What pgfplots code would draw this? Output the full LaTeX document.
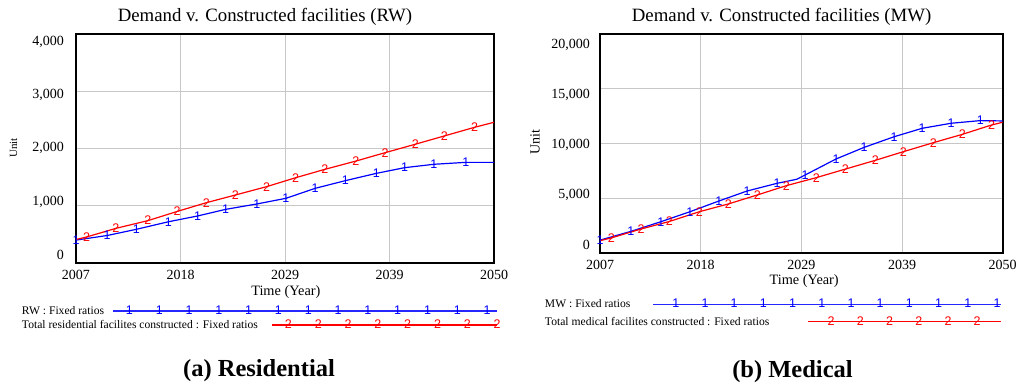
\documentclass[border=0pt]{standalone}
\usepackage{fontspec}
\setmainfont{Liberation Serif}
\newfontfamily\marksf{Liberation Sans}
\usepackage{pgfplots}
\usepackage{pgfplotstable}
\pgfplotsset{compat=1.18}

\newcommand\markfont{\marksf\fontsize{12.5}{13}\selectfont}
\newcommand\legfont{\fontsize{11.6}{13}\selectfont}

\pgfplotstableread{
year val
2007   400
2010.2 480
2013.2 588
2016.5 720
2019.5 821
2022.4 937
2025.6 1031
2028.6 1130
2031.6 1304
2034.7 1438
2037.9 1566
2040.8 1665
2043.8 1724
2047.1 1758
2050   1758
}\rwdata

\pgfplotstableread{
year val
2007   410
2008.1 455
2011.1 605
2014.4 740
2017.4 900
2020.4 1053
2023.4 1188
2026.6 1333
2029.6 1490
2032.6 1636
2035.8 1781
2038.8 1927
2041.9 2074
2044.9 2220
2048.0 2370
2050   2458
}\rtotdata

\pgfplotstableread{
year val
2007   1200
2010.3 2000
2013.5 2880
2016.6 3790
2019.7 4770
2022.7 5680
2025.9 6380
2028.0 6750
2028.9 7140
2032.2 8600
2035.2 9660
2038.4 10630
2041.4 11400
2044.5 11860
2047.6 12100
2050   12070
}\mwdata

\pgfplotstableread{
year val
2007   1150
2008.2 1400
2011.4 2220
2014.4 2900
2017.6 3790
2020.7 4500
2023.8 5320
2026.9 6170
2030.1 6900
2033.2 7680
2036.4 8480
2039.4 9270
2042.6 10090
2045.7 10850
2048.8 11700
2050   11950
}\mtotdata

\pgfplotsset{
  vensim/.style={
    scale only axis,
    anchor=south west,
    xmin=2007, xmax=2050, ymin=0,
    xtick={2007,2017.75,2028.5,2039.25,2050},
    xticklabels={2007,2018,2029,2039,2050},
    yticklabels={},
    scaled x ticks=false, scaled y ticks=false,
    extra y tick style={grid=none},
    grid=major,
    major grid style={color=black!22, line width=0.9pt},
    major tick length=0pt,
    axis line style={line width=1.8pt},
    tick label style={font=\fontsize{14}{15}\selectfont},
    xticklabel style={anchor=north, inner sep=0pt, yshift=-7pt},
    yticklabel style={anchor=east, inner sep=0pt},
    /pgf/number format/assume math mode=true,
    title style={anchor=base, yshift=6pt, font=\fontsize{18.8}{20}\selectfont},
    xlabel={Time (Year)},
    ylabel={Unit},
    legend style={anchor=north west, draw=none, fill=none, inner sep=0pt,
      outer sep=0pt, row sep=0pt, nodes={inner sep=0pt},
      /tikz/every even column/.append style={column sep=0pt}},
    legend cell align=left,
  }
}

\begin{document}
\begin{tikzpicture}
\path[use as bounding box] (0,0) rectangle (1019pt,385pt);

% ---------------- Residential ----------------
\begin{axis}[vensim,
  at={(76pt,122pt)}, width=418pt, height=229pt,
  ymax=4000,
  ytick={0,1000,2000,3000,4000},
  extra y ticks={140,1074,2009,2934,3860},
  extra y tick labels={0,{1,000},{2,000},{3,000},{4,000}},
  yticklabel style={xshift=-12pt},
  title={Demand v. Constructed facilities (RW)},
  title style={at={(0.452,1)}},
  xlabel style={at={(0.502,0)}, anchor=base, yshift=-33pt, font=\fontsize{14.3}{15}\selectfont},
  ylabel style={at={(-0.1495,0.502)}, anchor=center, font=\fontsize{11}{12}\selectfont},
  legend style={at={(-0.1292,-0.179)}},
]
\addlegendimage{legend image code/.code={
  \path[draw=none, fill=none] (0,-7pt) rectangle (476pt,7pt);
  \node[anchor=west, inner sep=0pt, draw=none, font=\legfont, text=black] at (0,0) {RW : Fixed ratios};
  \draw[blue!85, line width=1.2pt] (91pt,0) -- (475pt,0);
  \foreach \i in {0,...,12} \node[inner sep=0pt, draw=none, font=\markfont, text=blue] at ({104pt+\i*29.8pt},0) {1};
}}
\addlegendentry{}
\addlegendimage{legend image code/.code={
  \path[draw=none, fill=none] (0,-7pt) rectangle (476pt,7pt);
  \node[anchor=west, inner sep=0pt, draw=none, font=\legfont, text=black] at (0,0) {Total residential facilites constructed : Fixed ratios};
  \draw[red, line width=1.2pt] (250pt,0) -- (475pt,0);
  \foreach \i in {0,...,7} \node[inner sep=0pt, draw=none, font=\markfont, text=red] at ({263pt+\i*29.8pt},0) {2};
}}
\addlegendentry{}

\addplot[forget plot, blue, line width=1.2pt, no marks] table {\rwdata};
\addplot[forget plot, blue, only marks, mark=text, text mark={1}, text mark as node=true,
  text mark style={font=\markfont, text=blue, inner sep=0pt},
  skip coords between index={14}{15}] table {\rwdata};
\addplot[forget plot, red, line width=1.2pt, no marks] table {\rtotdata};
\addplot[forget plot, red, only marks, mark=text, text mark={2}, text mark as node=true,
  text mark style={font=\markfont, text=red, inner sep=0pt},
  skip coords between index={0}{1}, skip coords between index={15}{16}] table {\rtotdata};
\end{axis}

% ---------------- Medical ----------------
\begin{axis}[vensim,
  at={(600pt,131.7pt)}, width=402.7pt, height=219.3pt,
  ymax=20000,
  ytick={0,5000,10000,15000,20000},
  extra y ticks={757,5317,9877,14437,18997},
  extra y tick labels={0,{5,000},{10,000},{15,000},{20,000}},
  yticklabel style={xshift=-10pt},
  title={Demand v. Constructed facilities (MW)},
  title style={at={(0.451,1)}},
  xlabel style={at={(0.507,0)}, anchor=base, yshift=-31.7pt, font=\fontsize{14.3}{15}\selectfont},
  ylabel style={at={(-0.1614,0.505)}, anchor=center, font=\fontsize{14}{15}\selectfont},
  legend style={at={(-0.1366,-0.1929)}},
]
\addlegendimage{legend image code/.code={
  \path[draw=none, fill=none] (0,-8.7pt) rectangle (456pt,8.7pt);
  \node[anchor=west, inner sep=0pt, draw=none, font=\legfont, text=black] at (0,0) {MW : Fixed ratios};
  \draw[blue!85, line width=1.2pt] (108.3pt,0) -- (455.7pt,0);
  \foreach \i in {0,...,11} \node[inner sep=0pt, draw=none, font=\markfont, text=blue] at ({127.3pt+\i*29.2pt},0) {1};
}}
\addlegendentry{}
\addlegendimage{legend image code/.code={
  \path[draw=none, fill=none] (0,-8.7pt) rectangle (456pt,8.7pt);
  \node[anchor=west, inner sep=0pt, draw=none, font=\legfont, text=black] at (0,0) {Total medical facilites constructed : Fixed ratios};
  \draw[red, line width=1.2pt] (263pt,0) -- (455.7pt,0);
  \foreach \i in {0,...,5} \node[inner sep=0pt, draw=none, font=\markfont, text=red] at ({282.7pt+\i*29.2pt},0) {2};
}}
\addlegendentry{}

\addplot[forget plot, blue, line width=1.2pt, no marks] table {\mwdata};
\addplot[forget plot, blue, only marks, mark=text, text mark={1}, text mark as node=true,
  text mark style={font=\markfont, text=blue, inner sep=0pt},
  skip coords between index={7}{8}, skip coords between index={15}{16}] table {\mwdata};
\addplot[forget plot, red, line width=1.2pt, no marks] table {\mtotdata};
\addplot[forget plot, red, only marks, mark=text, text mark={2}, text mark as node=true,
  text mark style={font=\markfont, text=red, inner sep=0pt},
  skip coords between index={0}{1}, skip coords between index={15}{16}] table {\mtotdata};
\end{axis}

\node[anchor=base, font=\bfseries\fontsize{24.5}{26}\selectfont] at (259pt,8pt) {(a) Residential};
\node[anchor=base, font=\bfseries\fontsize{24.5}{26}\selectfont] at (792.5pt,7pt) {(b) Medical};
\end{tikzpicture}
\end{document}
